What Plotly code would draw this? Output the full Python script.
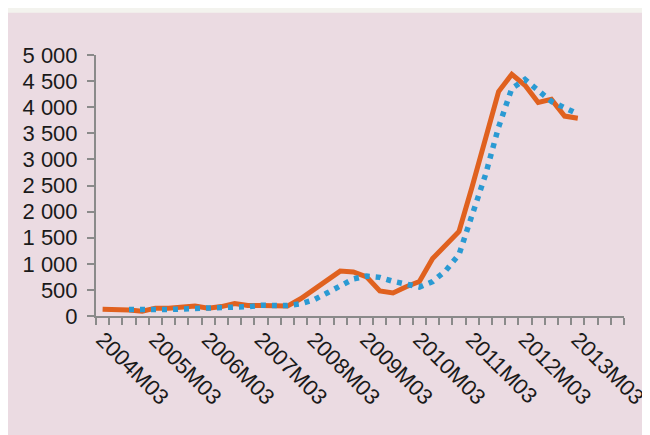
import plotly.graph_objects as go

quarters = [f"{y}M{m}" for y in range(2004, 2014) for m in ("03", "06", "09", "12")]

series_orange = [130, 130, 115, 90, 150, 150, 160, 190, 150, 180,
                 240, 200, 200, 200, 190, 330, 510, 700, 860, 845,
                 750, 480, 440, 560, 660, 1100, 1370, 1620, 2480, 3380,
                 4300, 4630, 4420, 4090, 4150, 3830, 3790, None, None, None]

series_blue = [None, None, 125, 112, 125, 125, 130, 145, 150, 150,
               175, 180, 205, 205, 200, 235, 310, 440, 590, 710,
               765, 740, 665, 600, 555, 660, 870, 1180, 1930, 2700,
               3620, 4360, 4530, 4330, 4110, 3990, 3870, None, None, None]

y_ticks = [0, 500, 1000, 1500, 2000, 2500, 3000, 3500, 4000, 4500, 5000]
y_ticklabels = ["0", "500", "1 000", "1 500", "2 000", "2 500", "3 000",
                "3 500", "4 000", "4 500", "5 000"]

idx = list(range(len(quarters)))
label_idx = [i for i, q in enumerate(quarters) if q.endswith("M03")]
label_txt = [quarters[i] for i in label_idx]

fig = go.Figure()
fig.add_trace(go.Scatter(x=idx, y=series_orange, mode="lines",
                         line=dict(color="#e0611f", width=5),
                         hoverinfo="skip", showlegend=False))
fig.add_trace(go.Scatter(x=idx, y=series_blue, mode="lines",
                         line=dict(color="#2a9ad3", width=5.5, dash="5px,6px"),
                         hoverinfo="skip", showlegend=False))

axis_color = "#8a8a8a"
font = dict(family="Liberation Sans, Arial", size=22, color="#1a1a1a")
fig.update_xaxes(range=[-0.5, len(quarters) - 0.5], tickvals=label_idx, ticktext=label_txt,
                 tickangle=45, ticks="", showgrid=False, zeroline=False,
                 showline=True, linecolor=axis_color, linewidth=2,
                 tickfont=font,
                 minor=dict(ticks="outside", tick0=-0.5, dtick=1, ticklen=7,
                            tickcolor=axis_color, tickwidth=1.5, showgrid=False))
fig.update_yaxes(range=[0, 5000], tickvals=y_ticks, ticktext=y_ticklabels,
                 ticks="outside", ticklen=7, tickcolor=axis_color, tickwidth=1.5,
                 showgrid=False, zeroline=False, showline=True,
                 linecolor=axis_color, linewidth=2, ticklabelstandoff=5,
                 tickfont=font)

# cream strip along the top of the page
fig.add_shape(type="rect", xref="paper", yref="paper",
              x0=-0.3, x1=1.2, y0=1 + 42.5 / 262, y1=1.4,
              fillcolor="#f3f3ee", line=dict(width=0), layer="below")

fig.update_layout(width=650, height=435,
                  margin=dict(l=88, r=34, t=46.5, b=126.5, autoexpand=False),
                  paper_bgcolor="#ebdbe2", plot_bgcolor="#ebdbe2")

fig.write_html("out.html")
